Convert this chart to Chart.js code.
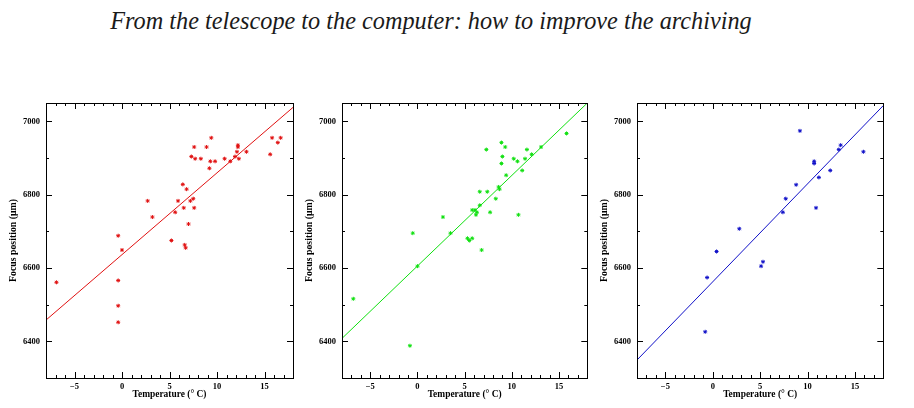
<!DOCTYPE html>
<html>
<head>
<meta charset="utf-8">
<script src="https://cdn.jsdelivr.net/npm/chart.js@4.4.1/dist/chart.umd.min.js"></script>
<style>
  body { margin: 0; background: #fff; width: 914px; height: 408px; overflow: hidden; position: relative; }
  #title { position: absolute; top: 7px; left: 0; width: 862px; text-align: center; white-space: nowrap;
           font-family: "Liberation Serif", serif; font-style: italic; font-size: 24px; color: #1a1a1a; }
  canvas { position: absolute; top: 90px; }
</style>
</head>
<body>
<div id="title">From the telescope to the computer: how to improve the archiving</div>
<canvas id="c1" width="300" height="318" style="left:0px"></canvas>
<canvas id="c2" width="300" height="318" style="left:296px"></canvas>
<canvas id="c3" width="300" height="318" style="left:591px"></canvas>
<script>
// temperatures (°C) and focus positions (µm)
const temp1 = [-6.9, -0.4, 0.0, -0.4, -0.4, -0.4, 2.7, 3.2, 5.2, 5.6, 5.9, 6.4, 6.5, 6.8, 6.6, 6.7, 7.0, 7.2, 7.5, 7.6,
               7.3, 7.6, 7.7, 8.3, 8.9, 9.4, 9.3, 9.2, 9.8, 10.8, 11.4, 11.9, 12.1, 12.2, 12.2, 12.3, 13.1, 15.6, 15.8, 16.4, 16.7];
const focus1 = [6561, 6688, 6649, 6566, 6497, 6452, 6783, 6739, 6675, 6752, 6783, 6828, 6764, 6815, 6663, 6655, 6720, 6783, 6789, 6764,
                6904, 6930, 6898, 6898, 6930, 6955, 6891, 6872, 6891, 6898, 6891, 6904, 6917, 6935, 6930, 6898, 6917, 6910, 6955, 6942, 6955];

const temp2 = [-6.8, -0.5, 0.0, -0.8, 2.7, 3.5, 5.3, 5.5, 5.8, 5.8, 6.1, 6.3, 6.2, 6.6, 6.6, 6.8, 7.3, 7.4, 7.7, 8.3,
               8.6, 8.7, 8.9, 9.0, 8.9, 9.3, 9.4, 10.2, 10.6, 10.7, 11.1, 11.4, 11.6, 12.1, 13.1, 15.8];
const focus2 = [6516, 6695, 6605, 6388, 6739, 6695, 6681, 6675, 6681, 6758, 6758, 6752, 6745, 6771, 6808, 6649, 6923, 6808, 6752, 6789,
                6821, 6815, 6942, 6904, 6885, 6930, 6853, 6898, 6891, 6745, 6866, 6898, 6923, 6910, 6930, 6967];

const temp3 = [-0.6, -0.8, 0.4, 2.8, 5.1, 5.3, 7.4, 7.7, 8.8, 9.2, 10.7, 10.7, 10.9, 11.2, 12.4, 13.3, 13.5, 15.9];
const focus3 = [6574, 6426, 6645, 6707, 6605, 6617, 6752, 6789, 6827, 6974, 6891, 6885, 6764, 6847, 6866, 6923, 6935, 6917];

// straight-line fits, given at the ends of the temperature axis
const fitTemp = [-8, 18];
const fit1 = [6458, 7038];
const fit2 = [6408, 7050];
const fit3 = [6349, 7043];

const xTicks = [-5, 0, 5, 10, 15];
const yTicks = [6400, 6600, 6800, 7000];
const xLabel = 'Temperature (° C)';
const yLabel = 'Focus position (\u03bcm)';

const pts = (xs, ys) => xs.map((x, i) => ({ x: x, y: ys[i] }));

// pick a font size so a string comes out at the width seen in the reference
const family = "'Liberation Serif', serif";
const mctx = document.createElement('canvas').getContext('2d');
function sizeFor(text, width, style) {
  mctx.font = style + ' 100px ' + family;
  return 100 * width / mctx.measureText(text).width;
}
const tickFont = { family: family, size: sizeFor('6800', 17, 'bold'), weight: 'bold' };
const xTitleFont = { family: family, size: sizeFor(xLabel, 74, 'bold'), weight: 'bold' };
const yTitleFont = { family: family, size: sizeFor(yLabel, 83, 'bold'), weight: 'bold' };
document.getElementById('title').style.fontSize =
  sizeFor(document.getElementById('title').textContent, 642, 'italic') + 'px';

// box with inward major/minor ticks on all four sides
const frame = {
  id: 'frame',
  afterDraw(chart) {
    const { ctx, chartArea: a, scales: { x, y } } = chart;
    ctx.save();
    ctx.strokeStyle = '#000';
    ctx.lineWidth = 1;
    ctx.strokeRect(Math.round(a.left) + 0.5, Math.round(a.top) + 0.5, Math.round(a.right - a.left), Math.round(a.bottom - a.top));
    ctx.beginPath();
    for (let v = -7; v <= 17; v++) {
      const px = Math.round(x.getPixelForValue(v)) + 0.5;
      const len = v % 5 === 0 ? 6 : 3;
      ctx.moveTo(px, a.bottom); ctx.lineTo(px, a.bottom - len);
      ctx.moveTo(px, a.top); ctx.lineTo(px, a.top + len);
    }
    for (let v = 6400; v <= 7000; v += 100) {
      const py = Math.round(y.getPixelForValue(v)) + 0.5;
      const len = v % 200 === 0 ? 6 : 3;
      ctx.moveTo(a.left, py); ctx.lineTo(a.left + len, py);
      ctx.moveTo(a.right, py); ctx.lineTo(a.right - len, py);
    }
    ctx.stroke();
    ctx.restore();
  }
};

function panel(id, temps, focus, fit, color, padRight) {
  new Chart(document.getElementById(id), {
    type: 'scatter',
    data: {
      datasets: [{
        data: pts(temps, focus),
        pointStyle: 'star',
        radius: 2,
        borderWidth: 1,
        borderColor: color,
        backgroundColor: color
      }, {
        type: 'line',
        data: pts(fitTemp, fit),
        borderColor: color,
        borderWidth: 1,
        pointRadius: 0,
        fill: false
      }]
    },
    options: {
      responsive: false,
      animation: false,
      layout: { padding: { top: 13, right: padRight, left: 8, bottom: 8 } },
      plugins: { legend: { display: false }, tooltip: { enabled: false } },
      scales: {
        x: {
          type: 'linear', min: -8, max: 18,
          afterBuildTicks: s => { s.ticks = xTicks.map(v => ({ value: v })); },
          afterFit: s => { s.height = 22; },
          grid: { display: false, drawTicks: false }, border: { display: false },
          ticks: { color: '#000', font: tickFont, padding: 4, maxRotation: 0,
                   callback: v => String(v).replace('-', '\u2212') },
          title: { display: true, text: xLabel, color: '#000', font: xTitleFont, padding: 0 }
        },
        y: {
          type: 'linear', min: 6300, max: 7050,
          afterBuildTicks: s => { s.ticks = yTicks.map(v => ({ value: v })); },
          afterFit: s => { s.width = 38; },
          grid: { display: false, drawTicks: false }, border: { display: false },
          ticks: { color: '#000', font: tickFont, padding: 6, callback: v => String(v) },
          title: { display: true, text: yLabel, color: '#000', font: yTitleFont, padding: 0 }
        }
      }
    },
    plugins: [frame]
  });
}

panel('c1', temp1, focus1, fit1, '#e01010', 7);
panel('c2', temp2, focus2, fit2, '#10e010', 8.7);
panel('c3', temp3, focus3, fit3, '#1010c8', 7.7);
</script>
</body>
</html>
